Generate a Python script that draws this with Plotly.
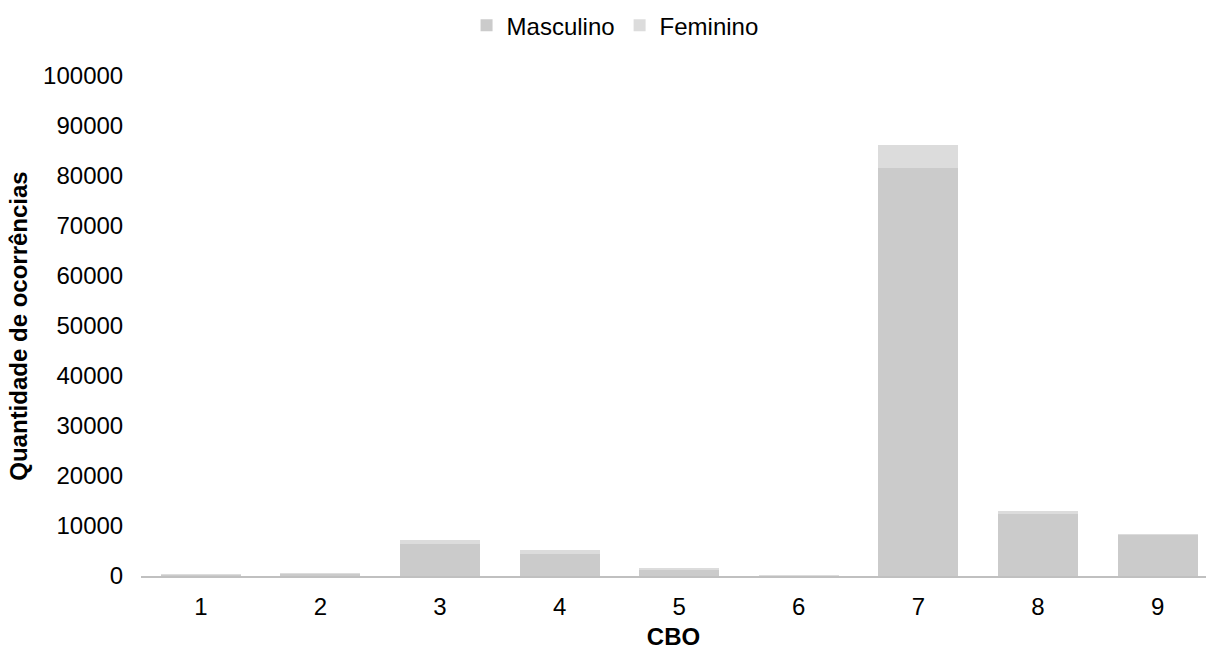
import plotly.graph_objects as go

categories = ["1", "2", "3", "4", "5", "6", "7", "8", "9"]
masculino = [300, 500, 6500, 4400, 1300, 100, 81700, 12400, 8300]
feminino = [100, 100, 700, 800, 400, 30, 4600, 600, 100]
y_ticks = [0, 10000, 20000, 30000, 40000, 50000, 60000, 70000, 80000, 90000, 100000]

FONT = "Liberation Sans, Arial, sans-serif"
FS = 24

fig = go.Figure()
fig.add_trace(go.Bar(x=categories, y=masculino, name="Masculino",
                     marker=dict(color="#cbcbcb", line=dict(width=0))))
fig.add_trace(go.Bar(x=categories, y=feminino, name="Feminino",
                     marker=dict(color="#dcdcdc", line=dict(width=0))))

fig.update_layout(
    barmode="stack",
    bargap=0.33,
    width=1206, height=650,
    margin=dict(l=141, r=0, t=76, b=74),
    paper_bgcolor="white", plot_bgcolor="white",
    font=dict(family=FONT, size=FS, color="#000000"),
    legend=dict(orientation="h", x=0.51, xanchor="center", xref="container",
                y=0.995, yanchor="top", yref="container",
                font=dict(size=FS), traceorder="normal"),
    xaxis=dict(type="category", range=[-0.5, 8.405], showline=True, linecolor="#c0c0c0", linewidth=2,
               ticks="outside", ticklen=8, tickcolor="rgba(0,0,0,0)", automargin=False,
               title=dict(text="<b>CBO</b>", font=dict(size=FS), standoff=16),
               showgrid=False),
    yaxis=dict(range=[0, 100000], tickvals=y_ticks, ticktext=[str(v) for v in y_ticks],
               showline=False, showgrid=False, zeroline=False,
               ticks="outside", ticklen=12, tickcolor="rgba(0,0,0,0)",
               title=dict(text="<b>Quantidade de ocorrências</b>", font=dict(size=FS), standoff=8)),
)

fig.write_html("out.html")
